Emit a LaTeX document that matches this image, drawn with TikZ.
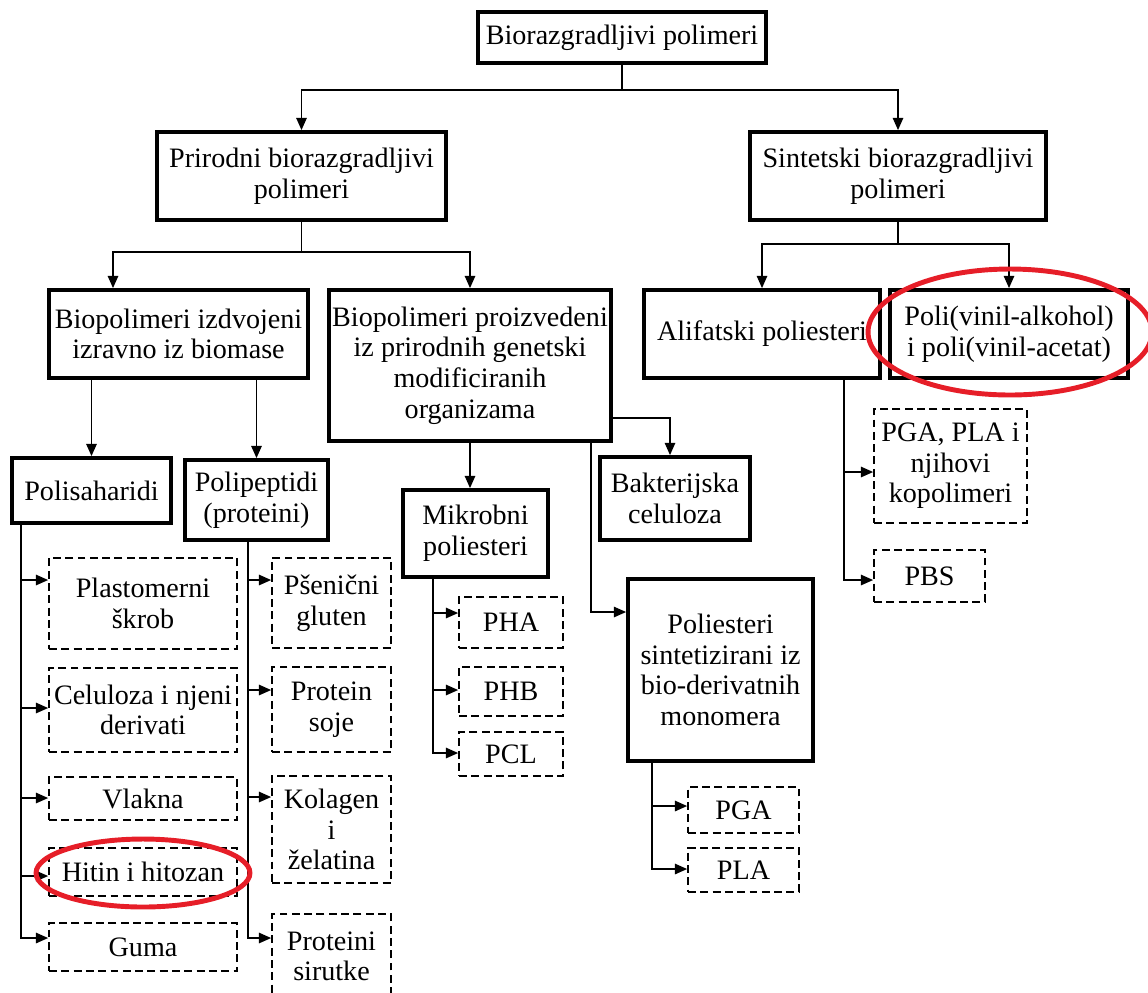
\documentclass[tikz,border=0pt]{standalone}
\usepackage{fontspec}
\setmainfont{Liberation Serif}
\usetikzlibrary{arrows.meta}
\definecolor{markred}{RGB}{230,30,40}

\begin{document}
\begin{tikzpicture}[x=0.02cm,y=-0.02cm,
  font=\fontsize{16}{17.4}\selectfont,
  box/.style={draw,line width=2.2pt,align=center,inner sep=0pt},
  leaf/.style={draw,line width=1pt,dash pattern=on 4.5pt off 2.5pt,align=center,inner sep=0pt},
  link/.style={line width=0.8pt,-{Triangle[length=7pt,width=6pt]}},
  plain/.style={line width=0.8pt},
  ring/.style={draw=markred,line width=2.8pt}]
\useasboundingbox (0,0) rectangle (1148,992);

% upper levels
\node[box,minimum width=5.76cm,minimum height=1.02cm] (top) at (622,37.5) {Biorazgradljivi polimeri};
\node[box,minimum width=5.78cm,minimum height=1.76cm] (prirodni) at (301.5,176) {Prirodni biorazgradljivi\\ polimeri};
\node[box,minimum width=5.92cm,minimum height=1.76cm] (sintetski) at (898,176) {Sintetski biorazgradljivi\\ polimeri};
\node[box,minimum width=5.18cm,minimum height=1.76cm] (izdvojeni) at (178.5,334) {Biopolimeri izdvojeni\\ izravno iz biomase};
\node[box,minimum width=5.64cm,minimum height=3.02cm] (proizvedeni) at (470,365.5) {Biopolimeri proizvedeni\\ iz prirodnih genetski\\ modificiranih\\ organizama};
\node[box,minimum width=4.72cm,minimum height=1.76cm] (alifatski) at (762,334) {Alifatski poliesteri};
\node[box,minimum width=4.76cm,minimum height=1.76cm] (pva) at (1009,334) {Poli(vinil-alkohol)\\ i poli(vinil-acetat)};
\node[box,minimum width=3.18cm,minimum height=1.30cm] (polisaharidi) at (91.5,490.5) {Polisaharidi};
\node[box,minimum width=2.86cm,minimum height=1.60cm] (polipeptidi) at (256.5,500) {Polipeptidi\\ (proteini)};
\node[box,minimum width=2.90cm,minimum height=1.74cm] (mikrobni) at (475.5,533.5) {Mikrobni\\ poliesteri};
\node[box,minimum width=3.00cm,minimum height=1.66cm] (bakterijska) at (675,498.5) {Bakterijska\\ celuloza};
\node[box,minimum width=3.70cm,minimum height=3.64cm] (sintetizirani) at (720.5,670) {Poliesteri\\ sintetizirani iz\\ bio-derivatnih\\ monomera};

% leaves
\node[leaf,minimum width=3.06cm,minimum height=2.28cm] (pgapla) at (950.5,466) {PGA, PLA i\\ njihovi\\ kopolimeri};
\node[leaf,minimum width=2.22cm,minimum height=1.04cm] (pbs) at (929.5,576) {PBS};
\node[leaf,minimum width=3.76cm,minimum height=1.82cm] (plastomerni) at (143,603.5) {Plastomerni\\ škrob};
\node[leaf,minimum width=3.76cm,minimum height=1.68cm] (celuloza) at (143,710) {Celuloza i njeni\\ derivati};
\node[leaf,minimum width=3.76cm,minimum height=0.86cm] (vlakna) at (143,798.5) {Vlakna};
\node[leaf,minimum width=3.76cm,minimum height=0.96cm] (hitin) at (143,872) {Hitin i hitozan};
\node[leaf,minimum width=3.76cm,minimum height=0.96cm] (guma) at (143,947) {Guma};
\node[leaf,minimum width=2.38cm,minimum height=1.80cm] (psenicni) at (331.5,603) {Pšenični\\ gluten};
\node[leaf,minimum width=2.38cm,minimum height=1.70cm] (soje) at (331.5,709.5) {Protein\\ soje};
\node[leaf,minimum width=2.38cm,minimum height=2.14cm] (kolagen) at (331.5,829.5) {Kolagen\\ i\\ želatina};
\node[leaf,minimum width=2.38cm,minimum height=1.70cm] (sirutke) at (331.5,956.5) {Proteini\\ sirutke};
\node[leaf,minimum width=2.08cm,minimum height=1.02cm] (pha) at (511,622.5) {PHA};
\node[leaf,minimum width=2.08cm,minimum height=0.98cm] (phb) at (511,691.5) {PHB};
\node[leaf,minimum width=2.08cm,minimum height=0.88cm] (pcl) at (511,754) {PCL};
\node[leaf,minimum width=2.22cm,minimum height=0.92cm] (pga) at (743.5,810) {PGA};
\node[leaf,minimum width=2.22cm,minimum height=0.88cm] (pla) at (743.5,870) {PLA};

% connectors
\coordinate (j0) at (622,90);
\coordinate (j1) at (301.5,252);
\coordinate (j2) at (898,244);
\draw[plain] (top.south) -- (j0);
\draw[link] (j0) -| (prirodni.north);
\draw[link] (j0) -| (sintetski.north);
\draw[plain] (prirodni.south) -- (j1);
\draw[link] (j1) -| (izdvojeni.north -| 113,0);
\draw[link] (j1) -| (proizvedeni.north);
\draw[plain] (sintetski.south) -- (j2);
\draw[link] (j2) -| (alifatski.north);
\draw[link] (j2) -| (pva.north);
\draw[link] (izdvojeni.south -| polisaharidi.north) -- (polisaharidi.north);
\draw[link] (izdvojeni.south -| polipeptidi.north) -- (polipeptidi.north);
\draw[link] (proizvedeni.south) -- (proizvedeni.south |- mikrobni.north);
\draw[link] (proizvedeni.east |- 0,418) -| (bakterijska.north -| 670,0);
\draw[link] (proizvedeni.south -| 591,0) |- (sintetizirani.west |- 0,612);

\foreach \n/\y in {plastomerni/580,celuloza/708,vlakna/798,hitin/876,guma/938}
  \draw[link] (polisaharidi.south -| 21,0) |- (\n.west |- 0,\y);
\foreach \n/\y in {psenicni/580,soje/690,kolagen/797,sirutke/938}
  \draw[link] (polipeptidi.south -| 248,0) |- (\n.west |- 0,\y);
\foreach \n/\y in {pha/613,phb/690,pcl/753}
  \draw[link] (mikrobni.south -| 433,0) |- (\n.west |- 0,\y);
\foreach \n/\y in {pga/806,pla/869}
  \draw[link] (sintetizirani.south -| 652,0) |- (\n.west |- 0,\y);
\foreach \n/\y in {pgapla/472,pbs/580}
  \draw[link] (alifatski.south -| 844,0) |- (\n.west |- 0,\y);

% red marks
\draw[ring] (143,873) ellipse [x radius=2.14cm,y radius=0.68cm];
\draw[ring] (1010,332) ellipse [x radius=2.84cm,y radius=1.26cm];

\end{tikzpicture}
\end{document}
